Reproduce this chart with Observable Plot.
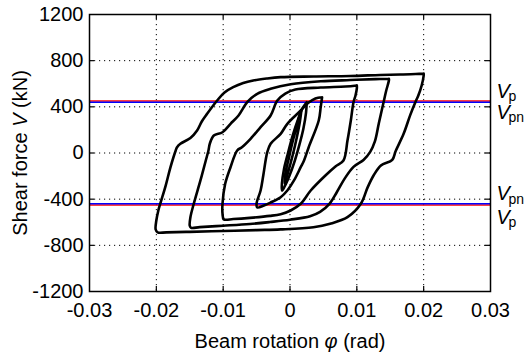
<!DOCTYPE html>
<html><head><meta charset="utf-8">
<script src="https://cdn.jsdelivr.net/npm/d3@7"></script>
<script src="https://cdn.jsdelivr.net/npm/@observablehq/plot@0.6"></script>
<style>html,body{margin:0;padding:0;background:#fff;} svg{display:block;}</style>
</head><body><div id="chart"></div>
<script>
// tick values
const xTicks = [-0.03, -0.02, -0.01, 0, 0.01, 0.02, 0.03];
const yTicks = [-1200, -800, -400, 0, 400, 800, 1200];
// plastic shear strengths (kN)
const Vp = 450;
const Vpn = 440;

// hysteresis loops [rotation (rad), shear (kN)]
const loop20 = [
  [0.0200, 688], [0.0200, 671], [0.0197, 585], [0.0192, 498], [0.0188, 446],
  [0.0180, 330], [0.0170, 166], [0.0158, 15], [0.0153, -59], [0.0136, -108],
  [0.0125, -195], [0.0116, -300], [0.0106, -440], [0.0086, -556], [0.0060, -613],
  [0.0035, -643], [-0.0014, -662], [-0.0050, -668], [-0.0100, -676], [-0.0150, -683],
  [-0.0185, -688], [-0.0198, -688], [-0.0201, -663], [-0.0200, -585], [-0.0197, -498],
  [-0.0194, -437], [-0.0186, -282], [-0.0179, -126], [-0.0171, 22], [-0.0169, 50],
  [-0.0164, 80], [-0.0149, 130], [-0.0139, 195], [-0.0132, 273], [-0.0124, 340],
  [-0.0109, 455], [-0.0098, 524], [-0.0085, 570], [-0.0070, 606], [-0.0055, 628],
  [-0.0035, 645], [-0.0014, 657], [0.0035, 663], [0.0090, 667], [0.0135, 676],
  [0.0165, 680], [0.0188, 684], [0.0200, 688]
];
const loop15 = [
  [0.0148, 643], [0.0148, 628], [0.0144, 541], [0.0140, 440], [0.0133, 260],
  [0.0127, 100], [0.0120, 10], [0.0110, -60], [0.0095, -120], [0.0082, -220],
  [0.0070, -340], [0.0059, -440], [0.0045, -510], [0.0030, -548], [0.0000, -578],
  [-0.0030, -598], [-0.0060, -615], [-0.0100, -630], [-0.0135, -642], [-0.0148, -648],
  [-0.0150, -630], [-0.0149, -556], [-0.0144, -440], [-0.0134, -238], [-0.0126, -65],
  [-0.0122, 22], [-0.0120, 80], [-0.0114, 152], [-0.0101, 180], [-0.0089, 253],
  [-0.0077, 325], [-0.0064, 440], [-0.0049, 513], [-0.0029, 556], [0.0001, 595],
  [0.0046, 621], [0.0090, 632], [0.0128, 640], [0.0148, 643]
];
const loop10 = [
  [0.0100, 585], [0.0100, 559], [0.0098, 498], [0.0095, 440], [0.0091, 282],
  [0.0086, 108], [0.0080, -65], [0.0068, -117], [0.0053, -195], [0.0031, -325],
  [0.0016, -440], [0.0001, -498], [-0.0014, -530], [-0.0030, -545], [-0.0060, -562],
  [-0.0085, -572], [-0.0099, -575], [-0.0101, -524], [-0.0101, -440], [-0.0097, -267],
  [-0.0089, -123], [-0.0079, 22], [-0.0072, 50], [-0.0059, 123], [-0.0044, 224],
  [-0.0029, 325], [-0.0019, 455], [-0.0007, 515], [0.0008, 550], [0.0046, 567],
  [0.0083, 576], [0.0100, 585]
];
const loop05 = [
  [0.0048, 483], [0.0046, 400], [0.0043, 282], [0.0028, 50], [0.0021, -65],
  [0.0016, -123], [0.0006, -238], [-0.0004, -325], [-0.0014, -383], [-0.0029, -429],
  [-0.0039, -455], [-0.0049, -472], [-0.0050, -437], [-0.0044, -325], [-0.0040, -195],
  [-0.0034, 7], [-0.0029, 80], [-0.0014, 166], [-0.0004, 253], [0.0016, 368],
  [0.0028, 438], [0.0038, 473], [0.0048, 483]
];
const loopS1 = [
  [0.0025, 440], [0.0024, 350], [0.0020, 210], [0.0014, 70], [0.0007, -70],
  [-0.0001, -200], [-0.0008, -290], [-0.0012, -325], [-0.0012, -260], [-0.0009, -140],
  [-0.0003, 0], [0.0004, 150], [0.0012, 290], [0.0019, 390], [0.0025, 440]
];
const loopS2 = [
  [0.0017, 370], [0.0015, 280], [0.0010, 130], [0.0004, -20], [-0.0003, -170],
  [-0.0008, -265], [-0.0007, -180], [-0.0002, -50], [0.0004, 100], [0.0010, 230],
  [0.0014, 320], [0.0017, 370]
];

const loops = [loop20, loop15, loop10, loop05, loopS1, loopS2];
const loopRows = loops.flatMap((pts, i) => pts.map(([x, y]) => ({x, y, loop: i})));

const W = 524, H = 356;
const mL = 89, mR = 34, mT = 14, mB = 65;
// tick length in data units (5px)
const tx = 5 * 0.06 / (W - mL - mR);
const ty = 5 * 2400 / (H - mT - mB);
const innerX = xTicks.slice(1, -1);
const innerY = yTicks.slice(1, -1);
const FONT = "Arial, 'Liberation Sans', Helvetica, sans-serif";

function vLabel(value, sub, dyV, dySub) {
  return [
    Plot.text([value], {x: () => 0.03, y: d => d, text: () => "V", fontStyle: "italic",
      fontSize: 20, textAnchor: "start", lineAnchor: "bottom", dx: 6, dy: dyV}),
    Plot.text([value], {x: () => 0.03, y: d => d, text: () => sub,
      fontSize: 14, textAnchor: "start", lineAnchor: "bottom", dx: 18, dy: dySub})
  ];
}

const chart = Plot.plot({
  width: W, height: H,
  marginLeft: mL, marginRight: mR, marginTop: mT, marginBottom: mB,
  style: {fontFamily: FONT, fontSize: "20px", color: "black", background: "white", overflow: "visible"},
  x: {domain: [-0.03, 0.03]},
  y: {domain: [-1200, 1200]},
  marks: [
    Plot.gridX(innerX, {stroke: "black", strokeOpacity: 1, strokeWidth: 1, strokeDasharray: "1.2,3.8"}),
    Plot.gridY(innerY, {stroke: "black", strokeOpacity: 1, strokeWidth: 1, strokeDasharray: "1.2,3.8"}),
    Plot.ruleX(innerX, {y1: -1200, y2: -1200 + ty, stroke: "black", strokeWidth: 1.2}),
    Plot.ruleX(innerX, {y1: 1200, y2: 1200 - ty, stroke: "black", strokeWidth: 1.2}),
    Plot.ruleY(innerY, {x1: -0.03, x2: -0.03 + tx, stroke: "black", strokeWidth: 1.2}),
    Plot.ruleY(innerY, {x1: 0.03, x2: 0.03 - tx, stroke: "black", strokeWidth: 1.2}),
    Plot.ruleY([Vp, -Vp], {stroke: "#ff0000", strokeWidth: 1.5}),
    Plot.ruleY([Vpn, -Vpn], {stroke: "#0000ff", strokeWidth: 1.5}),
    Plot.line(loopRows, {x: "x", y: "y", z: "loop", stroke: "black", strokeWidth: 2.6,
      curve: "catmull-rom", strokeLinejoin: "round"}),
    Plot.frame({stroke: "black", strokeWidth: 1.5}),
    Plot.axisX(xTicks, {tickSize: 0, tickPadding: 11, fontSize: 20, label: null,
      tickFormat: d => d === 0 ? "0" : String(d)}),
    Plot.axisY(yTicks, {tickSize: 0, tickPadding: 6, fontSize: 20, label: null,
      tickFormat: d => String(d)}),
    Plot.text(["Beam rotation φ (rad)"], {text: d => d, frameAnchor: "bottom",
      lineAnchor: "bottom", dy: 56, fontSize: 20}),
    Plot.text(["Shear force V (kN)"], {text: d => d, frameAnchor: "left", rotate: -90,
      textAnchor: "middle", lineAnchor: "middle", dx: -69, fontSize: 20}),
    ...vLabel(Vp, "p", -3.5, 0),
    ...vLabel(Vpn, "pn", 17, 20),
    ...vLabel(-Vpn, "pn", -3.5, 0),
    ...vLabel(-Vp, "p", 19, 22)
  ]
});

// mixed italic in axis titles
d3.select(chart).selectAll("text").each(function () {
  const t = this.textContent;
  let parts = null;
  if (t === "Shear force V (kN)") parts = ["Shear force ", "V", " (kN)"];
  if (t === "Beam rotation φ (rad)") parts = ["Beam rotation ", "φ", " (rad)"];
  if (!parts) return;
  const el = d3.select(this);
  el.text(null);
  el.append("tspan").text(parts[0]);
  el.append("tspan").attr("font-style", "italic").text(parts[1]);
  el.append("tspan").text(parts[2]);
});

document.getElementById("chart").appendChild(chart);
</script>
</body></html>
